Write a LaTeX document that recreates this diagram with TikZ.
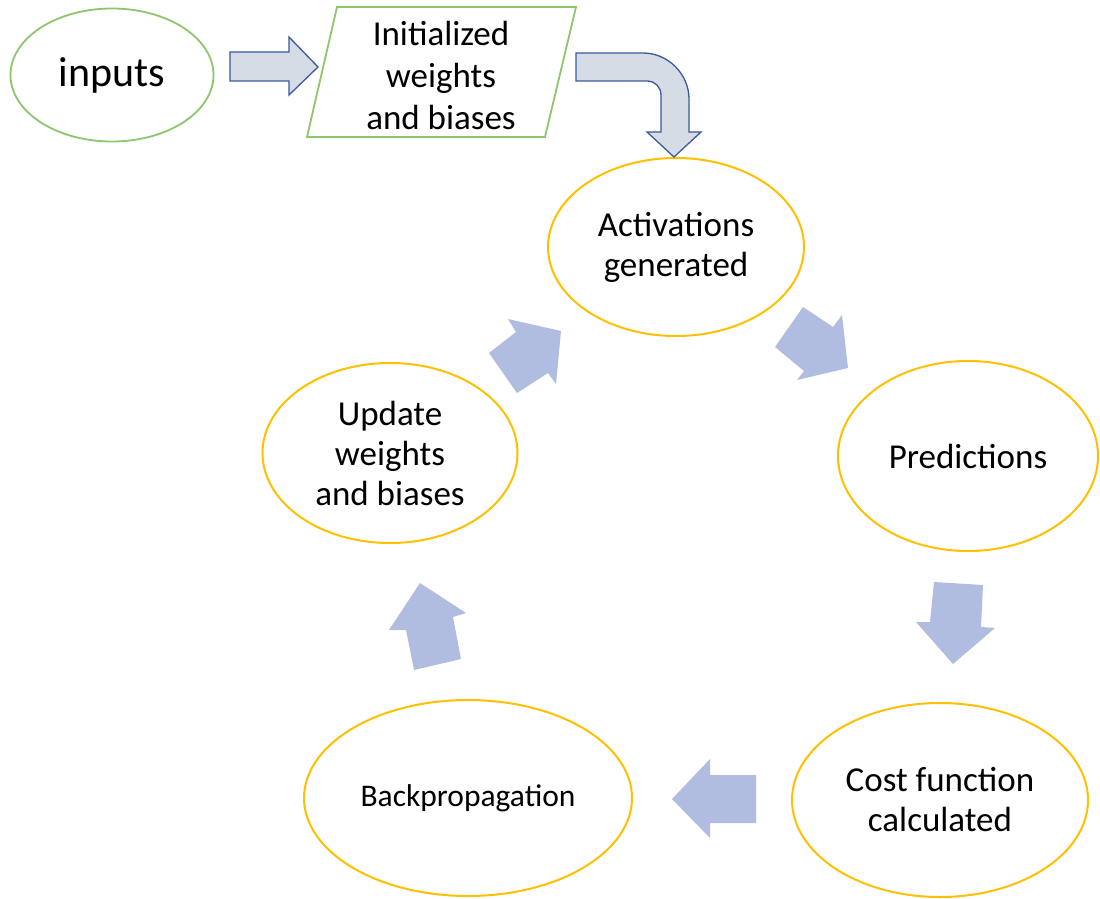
\documentclass[tikz,border=0pt]{standalone}
\usepackage{fontspec}
\setmainfont{Carlito}
\usetikzlibrary{shapes.geometric}
\definecolor{gold}{RGB}{255,192,0}
\definecolor{lgreen}{RGB}{140,198,110}
\definecolor{blockfill}{RGB}{176,189,224}
\definecolor{topfill}{RGB}{214,220,229}
\definecolor{topline}{RGB}{58,90,154}
\tikzset{
  stage/.style={ellipse, draw=gold, line width=2pt, align=center, inner sep=0pt,
    font=\fontsize{35}{40}\selectfont},
  startnode/.style={ellipse, draw=lgreen, line width=1.8pt, align=center, inner sep=0pt},
  blockarrow/.style={fill=blockfill, draw=none},
  toparrow/.style={fill=topfill, draw=topline, line width=1.3pt, line join=miter},
}
\begin{document}
\begin{tikzpicture}[x=1pt,y=-1pt]
\useasboundingbox (0,0) rectangle (1100,899);
% nodes
\node[startnode, minimum width=203pt, minimum height=133pt, font=\fontsize{42}{48}\selectfont] (inputs) at (112,75) {\raisebox{-3pt}{inputs}};
\draw[lgreen, line width=1.8pt, line join=miter] (337,7) -- (576,7) -- (545,137) -- (307,137) -- cycle;
\node[align=center, font=\fontsize{35}{42}\selectfont] (init) at (441,75) {Initialized\\weights\\and biases};
\node[stage, minimum width=256pt, minimum height=178pt] (act) at (676,247) {Activations\\generated};
\node[stage, minimum width=260pt, minimum height=190pt] (pred) at (968,456) {Predictions};
\node[stage, minimum width=296pt, minimum height=194pt] (cost) at (940,800) {Cost function\\calculated};
\node[stage, minimum width=328pt, minimum height=196pt, font=\fontsize{31.5}{38}\selectfont] (back) at (468,798) {Backpropagation};
\node[stage, minimum width=255pt, minimum height=180pt, font=\fontsize{35}{40}\selectfont] (upd) at (390,453) {Update\\weights\\and biases};
% top arrows
\draw[toparrow] (230,52) -- (289,52) -- (289,37) -- (318,67) -- (289,95) -- (289,81) -- (230,81) -- cycle;
\draw[toparrow] (576,53) -- (643,53) .. controls (668,53) and (689,74) .. (689,99)
  -- (689,132) -- (701,132) -- (674,157) -- (647,132) -- (661,132) -- (661,95)
  .. controls (661,87) and (655,81) .. (647,81) -- (576,81) -- cycle;
% cycle block arrows
\fill[blockarrow] (489,353) -- (516,332) -- (508,319) -- (561,331) -- (556,384) -- (548,373) -- (517,393) -- cycle;
\fill[blockarrow] (803,307) -- (833,327) -- (842,315) -- (848,368) -- (797,380) -- (804,371) -- (775,347) -- cycle;
\fill[blockarrow] (934,582) -- (983,585) -- (981,627) -- (995,628) -- (953,664) -- (916,622) -- (930,622) -- cycle;
\fill[blockarrow] (756,775) -- (756,823) -- (710,823) -- (710,838) -- (672,799) -- (710,759) -- (710,775) -- cycle;
\fill[blockarrow] (420,583) -- (466,613) -- (453,617) -- (461,659) -- (414,670) -- (406,630) -- (389,630) -- cycle;
\end{tikzpicture}
\end{document}
